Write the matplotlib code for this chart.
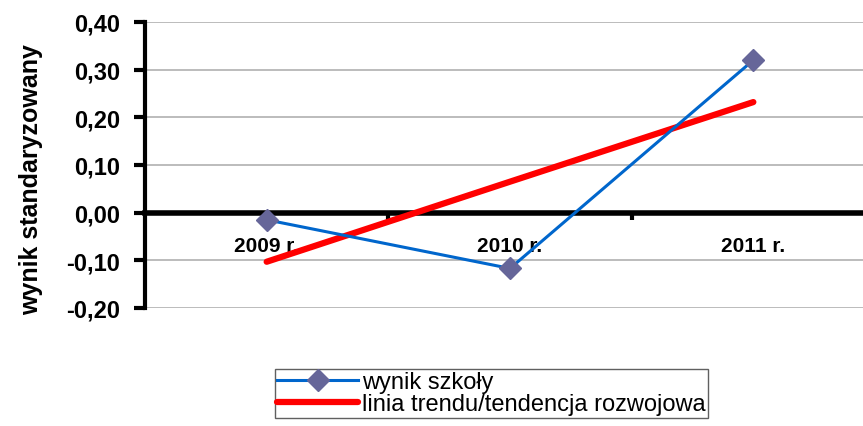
import numpy as np
import matplotlib.pyplot as plt

plt.rcParams['font.family'] = ['Liberation Sans', 'DejaVu Sans']

years = ['2009 r.', '2010 r.', '2011 r.']
school = [-0.015, -0.117, 0.32]
trend = [-0.103, 0.065, 0.232]
yticks = [-0.20, -0.10, 0.00, 0.10, 0.20, 0.30, 0.40]

fig = plt.figure(figsize=(8.63, 4.27), dpi=100)
ax = fig.add_axes([145 / 863, 1 - 309 / 427, 730 / 863, 286 / 427])

x = np.arange(len(years))

for v in yticks:
    ax.axhline(v, color='#b0b0b0', lw=1.2, zorder=0)

ax.plot(x, trend, color='#ff0000', lw=4.5, solid_capstyle='round', zorder=3,
        label='linia trendu/tendencja rozwojowa')
ax.plot(x, school, color='#0066cc', lw=2.2, marker='D', markersize=11,
        markerfacecolor='#666699', markeredgecolor='#666699', zorder=4,
        label='wynik szkoły')

ax.set_xlim(-0.5, 2.5)
ax.set_ylim(-0.2, 0.4)

ax.spines['top'].set_visible(False)
ax.spines['right'].set_visible(False)
ax.spines['left'].set_linewidth(3)
ax.spines['bottom'].set_position(('data', 0))
ax.spines['bottom'].set_linewidth(4)
ax.spines['bottom'].set_zorder(2)

ax.set_yticks(yticks)
ax.set_yticklabels([('%.2f' % v).replace('.', ',') for v in yticks],
                   fontsize=17, fontweight='bold')
ax.tick_params(axis='y', direction='out', length=8, width=3, pad=10)

ax.set_xticks(x)
ax.set_xticklabels(years, fontsize=15, fontweight='bold')
ax.set_xticks([0.5, 1.5], minor=True)
ax.tick_params(axis='x', which='major', length=0, pad=17)
ax.tick_params(axis='x', which='minor', direction='out', length=5, width=3)

fig.text(31 / 863, 1 - 180 / 427, 'wynik standaryzowany', rotation=90,
         ha='center', va='center', fontsize=18, fontweight='bold')

h, l = ax.get_legend_handles_labels()
leg = fig.legend(h[::-1], l[::-1], loc='upper left',
                 bbox_to_anchor=(275 / 863, 1 - 370 / 427),
                 fontsize=17, frameon=True, fancybox=False, framealpha=1,
                 edgecolor='#606060', borderpad=0.1, labelspacing=0.0,
                 handlelength=3.4, handletextpad=0.2, borderaxespad=0)
leg.get_frame().set_linewidth(1)

fig.savefig('out.png', dpi=100)
